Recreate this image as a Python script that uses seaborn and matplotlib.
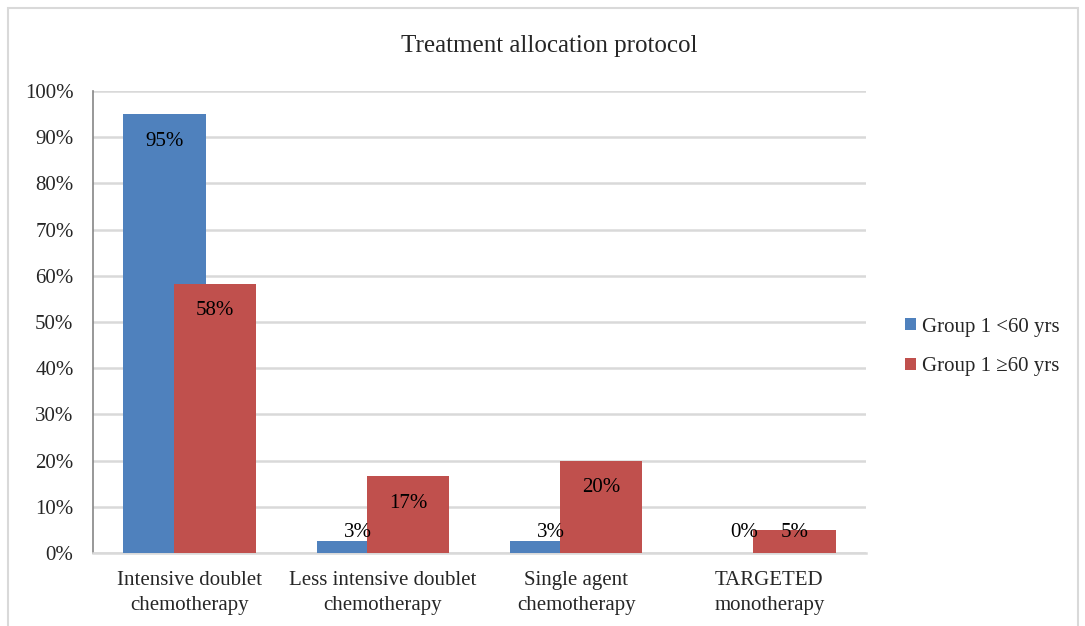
import matplotlib
matplotlib.use("Agg")
import matplotlib.pyplot as plt
import seaborn as sns
import pandas as pd
from matplotlib.patches import Rectangle

categories = ["Intensive doublet\nchemotherapy", "Less intensive doublet\nchemotherapy",
              "Single agent\nchemotherapy", "TARGETED\nmonotherapy"]
series_names = ["Group 1 <60 yrs", "Group 1 \u226560 yrs"]
young_values = [95.0, 2.5, 2.5, 0.0]
old_values = [58.3, 16.7, 20.0, 5.0]
young_labels = ["95%", "3%", "3%", "0%"]
old_labels = ["58%", "17%", "20%", "5%"]
yticks = [0, 10, 20, 30, 40, 50, 60, 70, 80, 90, 100]
ytick_labels = [f"{v}%" for v in yticks]
colors = ["#4f81bd", "#c0504d"]

sns.set_theme(style="white")
plt.rcParams["font.family"] = ["Liberation Serif", "DejaVu Serif"]

FS = 15

df = pd.DataFrame({
    "category": categories * 2,
    "value": young_values + old_values,
    "series": [series_names[0]] * 4 + [series_names[1]] * 4,
})

fig = plt.figure(figsize=(10.85, 6.26), dpi=100)
ax = fig.add_axes([93 / 1085, 1 - 553 / 626, (866 - 93) / 1085, (553 - 91) / 626])

sns.barplot(data=df, x="category", y="value", hue="series", order=categories,
            hue_order=series_names, palette=colors, width=0.52, ax=ax,
            saturation=1, legend=True, zorder=3)

# Overlap bars like the original (wider bars, same centres)
new_w = 0.425
for p in ax.patches:
    if p.get_height() is None:
        continue
    c = p.get_x() + p.get_width() / 2
    p.set_x(c - new_w / 2)
    p.set_width(new_w)
    p.set_edgecolor("none")

ax.set_ylim(0, 100)
ax.set_xlim(-0.5, 3.5)
ax.set_yticks(yticks)
ax.set_yticklabels(ytick_labels, fontsize=FS)
ax.set_xticks(range(4))
ax.set_xticklabels(categories, fontsize=FS, linespacing=1.4)
ax.tick_params(axis="x", length=0, pad=13)
ax.tick_params(axis="y", length=0, pad=14)
ax.set_xlabel("")
ax.set_ylabel("")
ax.grid(axis="y", color="#d9d9d9", linewidth=1.8, zorder=0)
ax.set_axisbelow(True)
for s in ["top", "right"]:
    ax.spines[s].set_visible(False)
ax.spines["left"].set_color("#868686")
ax.spines["left"].set_linewidth(1.2)
ax.spines["bottom"].set_color("#d9d9d9")
ax.spines["bottom"].set_linewidth(1.8)

# data labels
offs = 0.13
for i in range(4):
    for vals, labs, sgn in [(young_values, young_labels, -1), (old_values, old_labels, 1)]:
        y = max(vals[i] - 5.9, 4.4)
        ax.text(i + sgn * offs, y, labs[i], ha="center", va="center", fontsize=FS,
                color="black", zorder=5)

ax.set_title("")
fig.text(549 / 1085, 1 - 46 / 626, "Treatment allocation protocol", ha="center",
         va="center", fontsize=18)

leg = ax.legend(loc="center left", bbox_to_anchor=(886 / 1085, 1 - 347 / 626),
                bbox_transform=fig.transFigure, frameon=False, fontsize=FS,
                handlelength=0.55, handleheight=0.55, handletextpad=0.3, labelspacing=1.0)

fig.patches.append(Rectangle((8 / 1085, -0.01), (1078 - 8) / 1085, 1 - 8 / 626 + 0.01,
                             transform=fig.transFigure, fill=False,
                             edgecolor="#d9d9d9", linewidth=1.5))

fig.savefig("out.png", dpi=100)
